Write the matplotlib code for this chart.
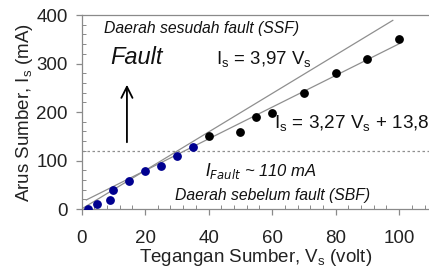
import matplotlib
matplotlib.use("Agg")
import matplotlib.pyplot as plt
import numpy as np
from matplotlib.ticker import MultipleLocator

plt.rcParams['font.family'] = ['Liberation Sans', 'DejaVu Sans']

# Data
vs_before = [2, 5, 9, 10, 15, 20, 25, 30, 35]
is_before = [0, 10, 18, 39, 58, 78, 89, 109, 128]
vs_after = [40, 50, 55, 60, 70, 80, 90, 100]
is_after = [150, 159, 190, 199, 239, 280, 309, 350]
fit1_x = [0, 98]           # Is = 3.97 Vs
fit2_x = [1.5, 100]        # Is = 3.27 Vs + 13.8
i_fault_level = 120
xticks = [0, 20, 40, 60, 80, 100]
yticks = [0, 100, 200, 300, 400]

fig = plt.figure(figsize=(4.29, 2.69), dpi=100)
ax = fig.add_axes([0.19, 0.223, 0.81, 0.721])
ax.set_xlim(0, 109.4)
ax.set_ylim(0, 400)

gray = '#8a8a8a'
x1 = np.array(fit1_x)
ax.plot(x1, 3.97 * x1, color='#8f8f8f', lw=0.9, zorder=2)
x2 = np.array(fit2_x)
ax.plot(x2, 3.27 * x2 + 13.8, color='#8f8f8f', lw=0.9, zorder=2)
ax.axhline(i_fault_level, color='#8f8f8f', lw=0.9, ls=(0, (2, 2)), zorder=1)

ax.plot(vs_before, is_before, 'o', color='#000090', ms=5.3, zorder=3)
ax.plot(vs_after, is_after, 'o', color='black', ms=5.3, zorder=3)

# Spines
for s in ['left', 'bottom', 'top']:
    ax.spines[s].set_color(gray)
    ax.spines[s].set_linewidth(0.9)
ax.spines['right'].set_visible(False)

ax.set_xticks(xticks)
ax.set_yticks(yticks)
ax.xaxis.set_minor_locator(MultipleLocator(4))
ax.yaxis.set_minor_locator(MultipleLocator(20))
ax.tick_params(which='major', direction='out', length=4, width=0.9, color=gray,
               labelsize=13.5, labelcolor='#222222')
ax.tick_params(which='minor', direction='in', length=3, width=0.7, color=gray)
ax.tick_params(axis='x', which='major', pad=11)
ax.tick_params(axis='y', which='major', pad=6)
ax.tick_params(top=False, which='both')

ax.set_xlabel('Tegangan Sumber, V$_\\mathregular{s}$ (volt)', fontsize=13.5, color='#222222', labelpad=0)
ax.set_ylabel('Arus Sumber, I$_\\mathregular{s}$ (mA)', fontsize=13.5, color='#222222', labelpad=1)

ax.text(7.1, 372, 'Daerah sesudah fault (SSF)', fontsize=11.3, style='italic',
        va='center', ha='left', color='#111111')
ax.text(9, 313, 'Fault', fontsize=17, style='italic', va='center', ha='left', color='#111111')
ax.annotate('', xy=(14.3, 262), xytext=(14.3, 132),
            arrowprops=dict(arrowstyle='->,head_length=0.8,head_width=0.4', lw=1.3, color='black'))
ax.text(42.4, 307, 'I$_\\mathregular{s}$ = 3,97 V$_\\mathregular{s}$', fontsize=13.4,
        va='center', ha='left', color='#111111')
ax.text(60.6, 175, 'I$_\\mathregular{s}$ = 3,27 V$_\\mathregular{s}$ + 13,8', fontsize=13.6,
        va='center', ha='left', color='#111111')
ax.text(39, 78, '$\\mathit{I}_{\\mathit{Fault}}$ ~ 110 mA', fontsize=12, style='italic',
        va='center', ha='left', color='#111111')
ax.text(29.5, 27.5, 'Daerah sebelum fault (SBF)', fontsize=11.3, style='italic',
        va='center', ha='left', color='#111111')

fig.savefig('out.png', dpi=100)
